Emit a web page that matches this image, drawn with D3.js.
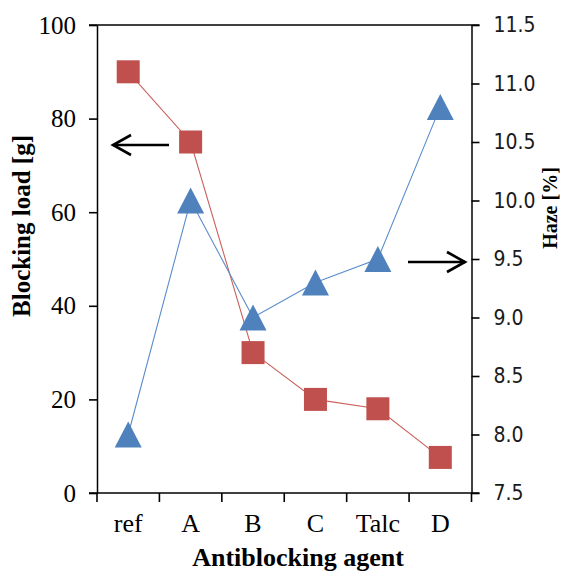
<!DOCTYPE html>
<html>
<head>
<meta charset="utf-8">
<script src="https://cdn.jsdelivr.net/npm/d3@7"></script>
<style>
  html, body { margin: 0; padding: 0; background: #fff; }
  svg { display: block; }
</style>
</head>
<body>
<svg id="chart" width="568" height="571"></svg>
<script>
// ---- data ----
const categories = ["ref", "A", "B", "C", "Talc", "D"];
const blockingLoad = [90, 75, 30, 20, 18, 7.6];      // left axis [g]
const haze = [8.0, 10.0, 9.0, 9.3, 9.5, 10.8];        // right axis [%]
const leftTicks = [0, 20, 40, 60, 80, 100];
const rightTicks = [7.5, 8.0, 8.5, 9.0, 9.5, 10.0, 10.5, 11.0, 11.5];
const xTitle = "Antiblocking agent";
const yLeftTitle = "Blocking load [g]";
const yRightTitle = "Haze [%]";

// ---- layout ----
const L = 97, R = 471.5, T = 25, B = 493;
const svg = d3.select("#chart");
const serif = "'Liberation Serif', 'Times New Roman', serif";
const sans = "'DejaVu Sans Condensed', 'DejaVu Sans', sans-serif";

const x = d3.scaleBand().domain(categories).range([L, R]).paddingInner(0).paddingOuter(0);
const yL = d3.scaleLinear().domain([0, 100]).range([B, T]);
const yR = d3.scaleLinear().domain([7.5, 11.5]).range([B, T]);
const cx = c => x(c) + x.bandwidth() / 2;

// ---- axes ----
const axL = svg.append("g").attr("transform", `translate(${L},0)`)
  .call(d3.axisLeft(yL).tickValues(leftTicks).tickSize(8).tickSizeOuter(0).tickPadding(13));
axL.selectAll("text").attr("font-family", serif).attr("font-size", 25).attr("fill", "#000");

const axR = svg.append("g").attr("transform", `translate(${R},0)`)
  .call(d3.axisRight(yR).tickValues(rightTicks).tickFormat(d3.format(".1f")).tickSize(8).tickSizeOuter(0).tickPadding(14));
axR.selectAll("text").attr("font-family", sans).attr("font-size", 21).attr("fill", "#1a1a1a");

const axB = svg.append("g").attr("transform", `translate(0,${B})`)
  .call(d3.axisBottom(x).tickSize(0).tickSizeOuter(0).tickPadding(21));
axB.selectAll("text").attr("font-family", serif).attr("font-size", 26).attr("fill", "#000");
axB.select(".domain").remove();

svg.selectAll(".domain").attr("stroke", "#000").attr("stroke-width", 1.5);
svg.selectAll(".tick line").attr("stroke", "#000").attr("stroke-width", 1.6);

// bottom and top border lines (extend over outer ticks)
[B, T].forEach(yy => svg.append("line")
  .attr("x1", L - 8).attr("x2", R + 8).attr("y1", yy).attr("y2", yy)
  .attr("stroke", "#000").attr("stroke-width", 1.6));

// category boundary ticks on x axis
const bounds = categories.map(c => x(c)).concat([x(categories[categories.length - 1]) + x.bandwidth()]);
svg.append("g").selectAll("line").data(bounds).join("line")
  .attr("x1", d => d).attr("x2", d => d).attr("y1", B).attr("y2", B + 9)
  .attr("stroke", "#000").attr("stroke-width", 1.6);

// ---- series: blocking load (red squares) ----
const redLine = d3.line().x((d, i) => cx(categories[i])).y(d => yL(d));
svg.append("path").datum(blockingLoad).attr("d", redLine)
  .attr("fill", "none").attr("stroke", "#C9605D").attr("stroke-width", 1.1);
const sq = 23;
svg.append("g").selectAll("rect").data(blockingLoad).join("rect")
  .attr("x", (d, i) => cx(categories[i]) - sq / 2)
  .attr("y", d => yL(d) - sq / 2)
  .attr("width", sq).attr("height", sq)
  .attr("fill", "#C0504D");

// ---- series: haze (blue triangles) ----
const blueLine = d3.line().x((d, i) => cx(categories[i])).y(d => yR(d));
svg.append("path").datum(haze).attr("d", blueLine)
  .attr("fill", "none").attr("stroke", "#5B8DCB").attr("stroke-width", 1.1);
const tw = 27, th = 26;
svg.append("g").selectAll("path").data(haze).join("path")
  .attr("d", (d, i) => {
    const px = cx(categories[i]), py = yR(d);
    return `M${px},${py - th / 2}L${px + tw / 2},${py + th / 2}L${px - tw / 2},${py + th / 2}Z`;
  })
  .attr("fill", "#4F81BD");

// ---- annotation arrows ----
function arrow(x1, x2, yy) {
  const dir = Math.sign(x2 - x1);
  const g = svg.append("g").attr("stroke", "#000").attr("stroke-width", 2.6).attr("fill", "none");
  g.append("line").attr("x1", x1).attr("x2", x2).attr("y1", yy).attr("y2", yy);
  g.append("path").attr("d", `M${x2 - dir * 18},${yy - 10}L${x2},${yy}L${x2 - dir * 18},${yy + 10}`);
}
arrow(169, 113, 145);
arrow(408, 465, 262);

// ---- titles ----
svg.append("text")
  .attr("x", 298).attr("y", 566)
  .attr("text-anchor", "middle")
  .attr("font-family", serif).attr("font-weight", "bold").attr("font-size", 26)
  .text(xTitle);

svg.append("text")
  .attr("transform", "translate(30,226) rotate(-90)")
  .attr("text-anchor", "middle")
  .attr("font-family", serif).attr("font-weight", "bold").attr("font-size", 25)
  .text(yLeftTitle);

svg.append("text")
  .attr("transform", "translate(557,208) rotate(-90)")
  .attr("text-anchor", "middle")
  .attr("font-family", serif).attr("font-weight", "bold").attr("font-size", 20)
  .text(yRightTitle);
</script>
</body>
</html>
